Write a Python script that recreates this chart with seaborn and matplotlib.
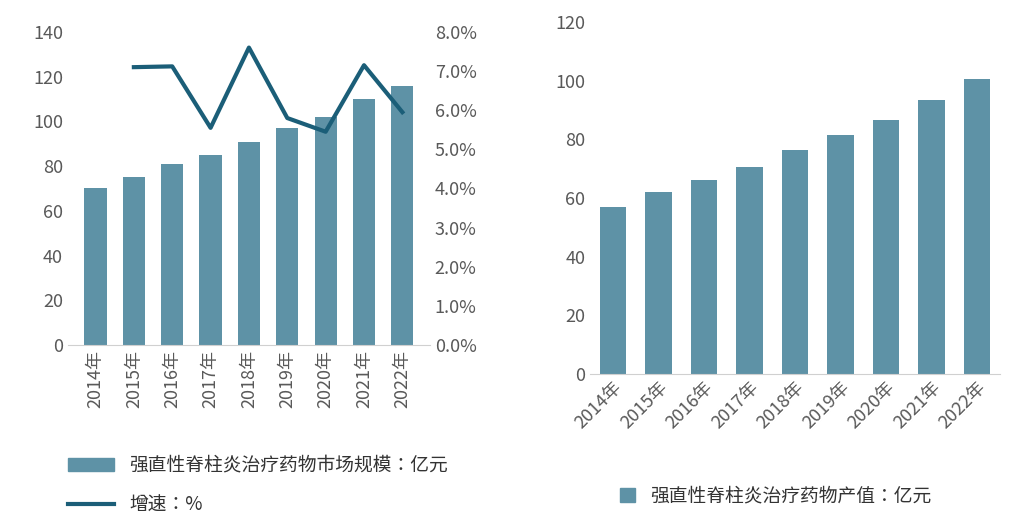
import matplotlib.pyplot as plt
import seaborn as sns
import pandas as pd
from matplotlib.ticker import PercentFormatter
from matplotlib.patches import Patch
from matplotlib.lines import Line2D

plt.rcParams["font.family"] = ["Noto Sans CJK SC", "Noto Sans CJK JP", "Noto Sans CJK TC", "DejaVu Sans"]

years = ["2014年", "2015年", "2016年", "2017年", "2018年", "2019年", "2020年", "2021年", "2022年"]
market = [70, 75, 81, 85, 91, 97, 102, 110, 116]
growth = [None, 7.1, 7.12, 5.55, 7.6, 5.8, 5.45, 7.15, 5.95]
output = [57, 62, 66, 70.5, 76.5, 81.5, 86.5, 93.5, 100.5]

bar_c = "#5e92a6"
line_c = "#1b5e78"
txt_c = "#595959"

df = pd.DataFrame({"year": years, "market": market, "growth": growth, "output": output})

fig = plt.figure(figsize=(10.14, 5.15), dpi=100)
ax1 = fig.add_axes([0.067, 0.33, 0.357, 0.608])
ax2 = ax1.twinx()
ax3 = fig.add_axes([0.582, 0.274, 0.404, 0.683])

sns.barplot(data=df, x="year", y="market", color=bar_c, width=0.58, ax=ax1, saturation=1)
ax1.set_ylim(0, 140)
ax1.set_yticks(range(0, 141, 20))
ax2.plot(range(len(years)), df["growth"], color=line_c, lw=3)
ax2.set_ylim(0, 8)
ax2.set_yticks(range(0, 9))
ax2.yaxis.set_major_formatter(PercentFormatter(decimals=1))
ax1.tick_params(axis="x", rotation=90)

sns.barplot(data=df, x="year", y="output", color=bar_c, width=0.58, ax=ax3, saturation=1)
ax3.set_ylim(0, 120)
ax3.set_yticks(range(0, 121, 20))
for lab in ax3.get_xticklabels():
    lab.set_rotation(45)
    lab.set_ha("right")
    lab.set_rotation_mode("anchor")

for a in (ax1, ax2, ax3):
    a.set_xlabel("")
    a.set_ylabel("")
    for s in a.spines.values():
        s.set_visible(False)
    a.tick_params(length=0, labelsize=13, colors=txt_c)
for a in (ax1, ax3):
    a.spines["bottom"].set_visible(True)
    a.spines["bottom"].set_color("#d0d0d0")

fig.legend(handles=[Patch(color=bar_c, label="强直性脊柱炎治疗药物市场规模：亿元"),
                    Line2D([], [], color=line_c, lw=3, label="增速：%")],
           loc="upper left", bbox_to_anchor=(0.05, 0.15), frameon=False,
           fontsize=13.5, labelcolor="#333333", handlelength=2.5, labelspacing=1.0)
fig.legend(handles=[Patch(color=bar_c, label="强直性脊柱炎治疗药物产值：亿元")],
           loc="upper left", bbox_to_anchor=(0.595, 0.09), frameon=False,
           fontsize=13.5, labelcolor="#333333", handlelength=0.8)

fig.savefig("out.png")
